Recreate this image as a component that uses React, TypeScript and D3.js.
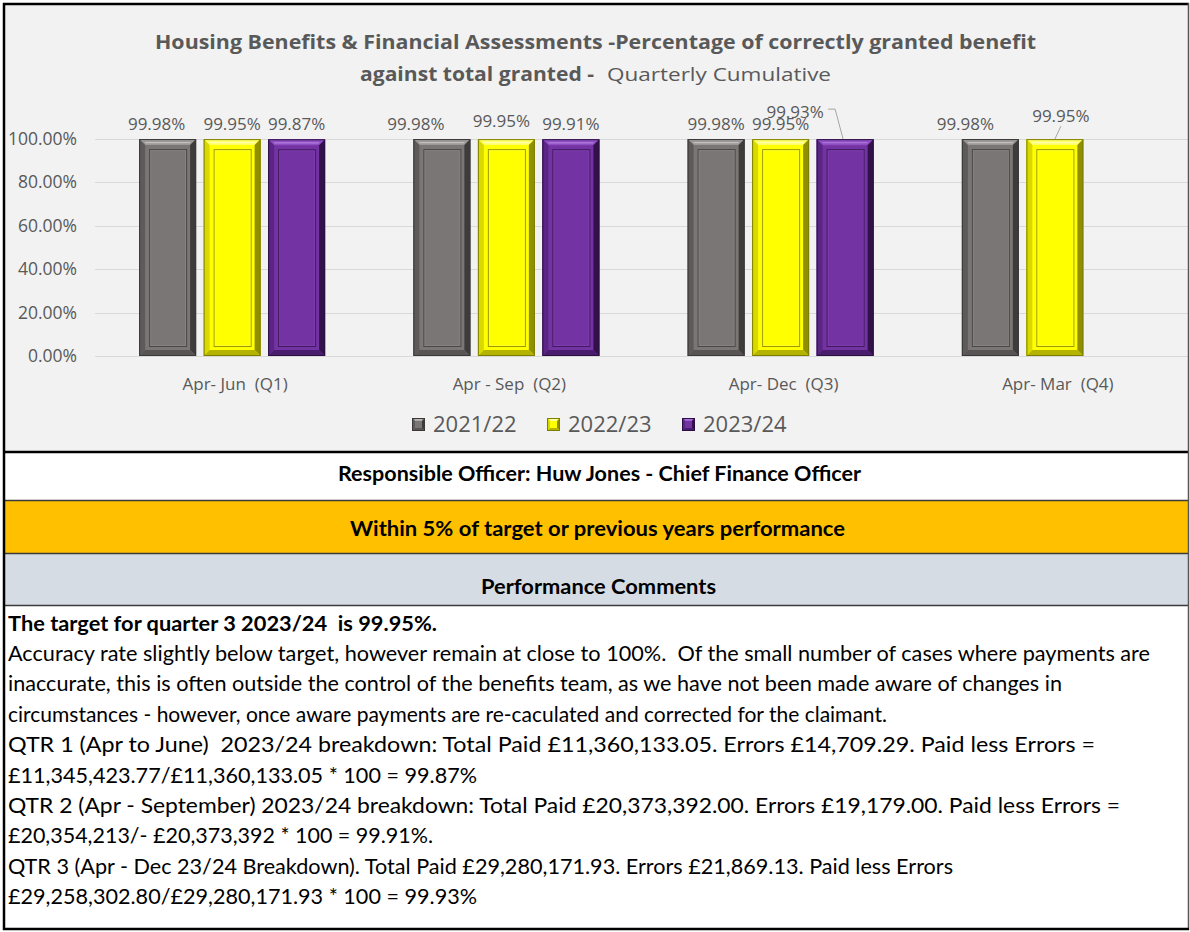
import React from 'react';
import * as d3 from 'd3';

// ---------- DATA ----------
const categories = ['Apr- Jun  (Q1)', 'Apr - Sep  (Q2)', 'Apr- Dec  (Q3)', 'Apr- Mar  (Q4)'];
const seriesNames = ['2021/22', '2022/23', '2023/24'];
const values2122: (number | null)[] = [99.98, 99.98, 99.98, 99.98];
const values2223: (number | null)[] = [99.95, 99.95, 99.95, 99.95];
const values2324: (number | null)[] = [99.87, 99.91, 99.93, null];
const yTicks = [0, 20, 40, 60, 80, 100];

const titleLine1 = 'Housing Benefits & Financial Assessments -Percentage of correctly granted benefit';
const titleLine2Bold = 'against total granted -';
const titleLine2Normal = 'Quarterly Cumulative';
const officerText = 'Responsible Officer: Huw Jones - Chief Finance Officer';
const statusText = 'Within 5% of target or previous years performance';
const commentsHeader = 'Performance Comments';
const commentBold = 'The target for quarter 3 2023/24  is 99.95%.';
const commentLines = [
  'Accuracy rate slightly below target, however remain at close to 100%.  Of the small number of cases where payments are',
  'inaccurate, this is often outside the control of the benefits team, as we have not been made aware of changes in',
  'circumstances - however, once aware payments are re-caculated and corrected for the claimant.',
  'QTR 1 (Apr to June)  2023/24 breakdown: Total Paid £11,360,133.05. Errors £14,709.29. Paid less Errors =',
  '£11,345,423.77/£11,360,133.05 * 100 = 99.87%',
  'QTR 2 (Apr - September) 2023/24 breakdown: Total Paid £20,373,392.00. Errors £19,179.00. Paid less Errors =',
  '£20,354,213/- £20,373,392 * 100 = 99.91%.',
  'QTR 3 (Apr - Dec 23/24 Breakdown). Total Paid £29,280,171.93. Errors £21,869.13. Paid less Errors',
  '£29,258,302.80/£29,280,171.93 * 100 = 99.93%',
];

// ---------- LAYOUT / STYLE ----------
const seriesValues = [values2122, values2223, values2324];
const palettes = [
  { face: '#7a7676', top: '#9c9898', hi: '#c4c0c0', left: '#5e5a5a', right: '#3e3b3b', bottom: '#585454', line: '#4a4747', edge: '#3a3838' },
  { face: '#ffff00', top: '#ffff66', hi: '#ffffb0', left: '#d9d900', right: '#8f8f00', bottom: '#b3b300', line: '#9a9a00', edge: '#7d7d00' },
  { face: '#7433a3', top: '#8e4dc0', hi: '#b27fe0', left: '#5a2585', right: '#33124c', bottom: '#4a1c6d', line: '#3f1a5c', edge: '#2c0f42' },
];
// manual nudges of data labels (dx, dy) keyed by series index / category index
const labelNudge: Record<string, [number, number]> = {
  '0-0': [-11, 0], '0-1': [-26, 0], '0-3': [-25, 0],
  '1-1': [-5, -3], '1-3': [6, -8],
  '2-2': [-50, -12],
};
const leaderFor = new Set(['2-2', '1-3']);
// right end of each comment line (null = natural width)
const commentRight: (number | null)[] = [437, 1150, 1062, null, 1095, 477, 1120, 433, 953, 477];

const textGray = '#595959';
const chartFont = '"Open Sans", "Noto Sans", sans-serif';
const bodyFont = 'Lato, "Open Sans", sans-serif';

function BevelBar({ x, y, w, h, c, b = 6, inset = 10 }: any) {
  return (
    <g>
      <rect x={x} y={y} width={w} height={h} fill={c.face} />
      <polygon points={`${x},${y} ${x + w},${y} ${x + w - b},${y + b} ${x + b},${y + b}`} fill={c.top} />
      <polygon points={`${x},${y} ${x + b},${y + b} ${x + b},${y + h - b} ${x},${y + h}`} fill={c.left} />
      <polygon points={`${x + w},${y} ${x + w},${y + h} ${x + w - b},${y + h - b} ${x + w - b},${y + b}`} fill={c.right} />
      <polygon points={`${x},${y + h} ${x + w},${y + h} ${x + w - b},${y + h - b} ${x + b},${y + h - b}`} fill={c.bottom} />
      <line x1={x + b} x2={x + w - b} y1={y + b * 0.6} y2={y + b * 0.6} stroke={c.hi} strokeWidth={1.2} />
      {inset > 0 && h > inset * 2 + 2 && (
        <g>
          <rect x={x + inset + 0.5} y={y + inset + 0.5} width={w - inset * 2} height={h - inset * 2} fill="none" stroke={c.line} strokeWidth={1} />
          <rect x={x + inset + 1.5} y={y + inset + 1.5} width={w - inset * 2 - 2} height={h - inset * 2 - 2} fill="none" stroke={c.top} strokeOpacity={0.35} strokeWidth={1} />
        </g>
      )}
      <rect x={x + 0.5} y={y + 0.5} width={w - 1} height={h - 1} fill="none" stroke={c.edge} strokeWidth={1} />
    </g>
  );
}

export default function App() {
  const W = 1190;
  const H = 932;
  const y = d3.scaleLinear().domain([0, 100]).range([356, 139]);
  const x0 = d3.scaleBand<string>().domain(categories).range([95, 1192]).paddingInner(0).paddingOuter(0);
  const groupW = 186;
  const x1 = d3.scaleBand<string>().domain(seriesNames).range([0, groupW]).paddingInner(0.1163);
  const bw = x1.bandwidth();
  const fmt = (v: number) => d3.format('.2f')(v) + '%';

  const bars: any[] = [];
  const labels: any[] = [];
  const leaders: any[] = [];
  seriesValues.forEach((vals, si) => {
    vals.forEach((v, ci) => {
      if (v == null) return;
      const bx = (x0(categories[ci]) as number) + (x0.bandwidth() - groupW) / 2 + (x1(seriesNames[si]) as number);
      const by = y(v);
      bars.push(<BevelBar key={`b${si}-${ci}`} x={bx} y={by} w={bw} h={y(0) - by} c={palettes[si]} />);
      const key = `${si}-${ci}`;
      const [dx, dy] = labelNudge[key] || [0, 0];
      const lx = bx + bw / 2 + dx;
      const ly = by - 9 + dy;
      labels.push(
        <text key={`l${key}`} x={lx} y={ly} textAnchor="middle" fontSize={17} fill={textGray} fontFamily={chartFont}>
          {fmt(v)}
        </text>
      );
      if (leaderFor.has(key)) {
        const cx = bx + bw / 2;
        if (dx < -20) {
          leaders.push(
            <polyline key={`ld${key}`} points={`${lx + 33},${ly - 9} ${lx + 40},${ly - 9} ${cx - 2},${by}`} fill="none" stroke="#a6a6a6" strokeWidth={1} />
          );
        } else {
          leaders.push(
            <line key={`ld${key}`} x1={lx} y1={ly + 4} x2={cx} y2={by} stroke="#a6a6a6" strokeWidth={1} />
          );
        }
      }
    });
  });

  const legendX = (i: number) => 412 + i * 135;

  return (
    <svg width={W} height={H} style={{ position: 'absolute', left: 0, top: 0, display: 'block' }}>
      <rect x={0} y={0} width={W} height={H} fill="#ffffff" />
      {/* chart area */}
      <rect x={4} y={4} width={1184} height={448} fill="#f2f2f2" />
      {/* title */}
      <text x={155} y={49} fontSize={19} fontWeight={700} fill={textGray} fontFamily={chartFont} textLength={881} lengthAdjust="spacingAndGlyphs">
        {titleLine1}
      </text>
      <text x={360} y={81} fontSize={19} fontWeight={700} fill={textGray} fontFamily={chartFont} textLength={234} lengthAdjust="spacingAndGlyphs">
        {titleLine2Bold}
      </text>
      <text x={607} y={81} fontSize={19} fontWeight={400} fill={textGray} fontFamily={chartFont} textLength={224} lengthAdjust="spacingAndGlyphs">
        {titleLine2Normal}
      </text>
      {/* gridlines & y labels */}
      {yTicks.map((t) => (
        <g key={`g${t}`}>
          <line x1={95} x2={1188} y1={Math.round(y(t)) + 0.5} y2={Math.round(y(t)) + 0.5} stroke="#d9d9d9" strokeWidth={1} />
          <text x={77} y={y(t) + 6} textAnchor="end" fontSize={17.5} fill={textGray} fontFamily={chartFont}>
            {t.toFixed(2) + '%'}
          </text>
        </g>
      ))}
      {bars}
      {leaders}
      {labels}
      {/* category labels */}
      {categories.map((c) => (
        <text key={c} x={(x0(c) as number) + x0.bandwidth() / 2 + 3} y={390} textAnchor="middle" fontSize={17} fill={textGray} fontFamily={chartFont} style={{ whiteSpace: 'pre' }}>
          {c}
        </text>
      ))}
      {/* legend */}
      {seriesNames.map((s, i) => (
        <g key={s}>
          <BevelBar x={legendX(i)} y={418} w={13} h={13} c={palettes[i]} b={3} inset={0} />
          <text x={legendX(i) + 21} y={432} fontSize={22} fill={textGray} fontFamily={chartFont}>
            {s}
          </text>
        </g>
      ))}

      {/* table bands */}
      <rect x={4} y={453} width={1184} height={47} fill="#ffffff" />
      <rect x={4} y={501} width={1184} height={52} fill="#ffc000" />
      <rect x={4} y={554} width={1184} height={51} fill="#d6dce4" />
      <rect x={4} y={606} width={1184} height={322} fill="#ffffff" />

      <text x={338} y={481} fontSize={20} fontWeight={700} fill="#000" fontFamily={bodyFont} textLength={523} lengthAdjust="spacingAndGlyphs">
        {officerText}
      </text>
      <text x={350} y={536} fontSize={20} fontWeight={700} fill="#000" fontFamily={bodyFont} textLength={495} lengthAdjust="spacingAndGlyphs">
        {statusText}
      </text>
      <text x={481} y={594} fontSize={20} fontWeight={700} fill="#000" fontFamily={bodyFont} textLength={235} lengthAdjust="spacingAndGlyphs">
        {commentsHeader}
      </text>

      {[commentBold, ...commentLines].map((line, i) => {
        const r = commentRight[i];
        const extra: any = r != null ? { textLength: r - 8, lengthAdjust: 'spacingAndGlyphs' } : {};
        return (
          <text key={`c${i}`} x={8} y={630.5 + i * 30.4} fontSize={21} fontWeight={i === 0 ? 700 : 400} fill="#000" fontFamily={bodyFont}
            {...extra} style={{ whiteSpace: 'pre' }}>
            {line}
          </text>
        );
      })}

      {/* separators */}
      <line x1={3} x2={1189} y1={452} y2={452} stroke="#000" strokeWidth={2.5} />
      <line x1={3} x2={1189} y1={500.5} y2={500.5} stroke="#3a3a3a" strokeWidth={1.6} />
      <line x1={3} x2={1189} y1={553.5} y2={553.5} stroke="#3a3a3a" strokeWidth={1.6} />
      <line x1={3} x2={1189} y1={605.5} y2={605.5} stroke="#3a3a3a" strokeWidth={1.6} />
      {/* outer border */}
      <line x1={3} x2={1189} y1={4} y2={4} stroke="#000" strokeWidth={2.5} />
      <line x1={4} x2={4} y1={3} y2={930} stroke="#000" strokeWidth={2.5} />
      <line x1={1188.5} x2={1188.5} y1={3} y2={930} stroke="#555" strokeWidth={1.5} />
      <line x1={3} x2={1189} y1={929} y2={929} stroke="#000" strokeWidth={2.5} />
    </svg>
  );
}
